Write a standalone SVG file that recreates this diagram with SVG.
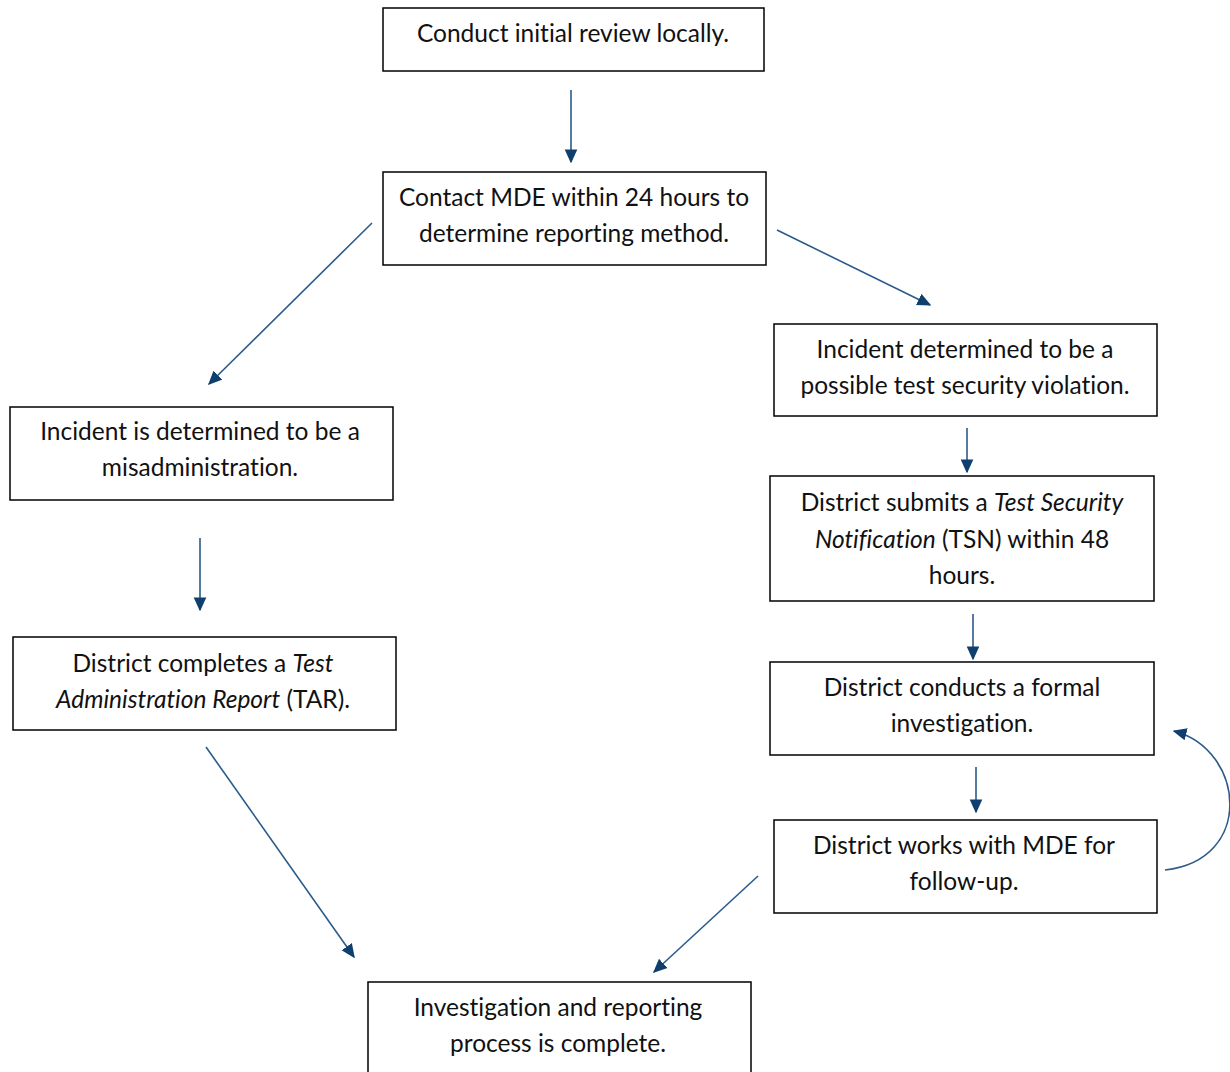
<svg xmlns="http://www.w3.org/2000/svg" width="1230" height="1072" viewBox="0 0 1230 1072">
<style>
.box{fill:#fff;stroke:#000;stroke-width:1.5}
.t{font-family:Lato,"Open Sans","Liberation Sans",sans-serif;font-size:24.5px;fill:#111;text-anchor:middle;font-variant-ligatures:none}
.c{fill:none;stroke:#2a5b8a;stroke-width:1.6;marker-end:url(#ah)}
</style>
<defs>
<marker id="ah" viewBox="0 0 10 10" refX="9" refY="5" markerWidth="14" markerHeight="14" markerUnits="userSpaceOnUse" orient="auto"><path d="M0,0.5L10,5L0,9.5z" fill="#0f3f6e"/></marker>
</defs>
<rect width="1230" height="1072" fill="#fff"/>
<g id="connectors">
<line class="c" x1="571" y1="90" x2="571" y2="162"/>
<line class="c" x1="372" y1="223" x2="209" y2="384"/>
<line class="c" x1="777" y1="230" x2="930" y2="305"/>
<line class="c" x1="967" y1="428" x2="967" y2="472"/>
<line class="c" x1="200" y1="538" x2="200" y2="610"/>
<line class="c" x1="973" y1="614" x2="973" y2="659"/>
<line class="c" x1="976" y1="767" x2="976" y2="812"/>
<line class="c" x1="206" y1="747" x2="354" y2="957"/>
<line class="c" x1="758" y1="876" x2="654" y2="972"/>
<path class="c" d="M1165,870 C1255,860 1245,750 1174,731"/>
</g>
<g id="n1"><rect class="box" x="383" y="8" width="381" height="63"/><text class="t" x="573" y="42">Conduct initial review locally.</text></g>
<g id="n2"><rect class="box" x="383" y="172" width="383" height="93"/><text class="t" x="574" y="206">Contact MDE within 24 hours to</text><text class="t" x="574" y="242">determine reporting method.</text></g>
<g id="n3"><rect class="box" x="774" y="324" width="383" height="92"/><text class="t" x="965" y="358">Incident determined to be a</text><text class="t" x="965" y="394">possible test security violation.</text></g>
<g id="n4"><rect class="box" x="10" y="407" width="383" height="93"/><text class="t" x="200" y="440">Incident is determined to be a</text><text class="t" x="200" y="476">misadministration.</text></g>
<g id="n5"><rect class="box" x="770" y="476" width="384" height="125"/><text class="t" x="962" y="511">District submits a <tspan font-style="italic">Test Security</tspan></text><text class="t" x="962" y="548"><tspan font-style="italic">Notification</tspan> (TSN) within 48</text><text class="t" x="962" y="584">hours.</text></g>
<g id="n6"><rect class="box" x="13" y="637" width="383" height="93"/><text class="t" x="203" y="672">District completes a <tspan font-style="italic">Test</tspan></text><text class="t" x="203" y="708"><tspan font-style="italic">Administration Report</tspan> (TAR).</text></g>
<g id="n7"><rect class="box" x="770" y="662" width="384" height="93"/><text class="t" x="962" y="696">District conducts a formal</text><text class="t" x="962" y="732">investigation.</text></g>
<g id="n8"><rect class="box" x="774" y="820" width="383" height="93"/><text class="t" x="964" y="854">District works with MDE for</text><text class="t" x="964" y="890">follow-up.</text></g>
<g id="n9"><rect class="box" x="368" y="982" width="383" height="100"/><text class="t" x="558" y="1016">Investigation and reporting</text><text class="t" x="558" y="1052">process is complete.</text></g>
</svg>
